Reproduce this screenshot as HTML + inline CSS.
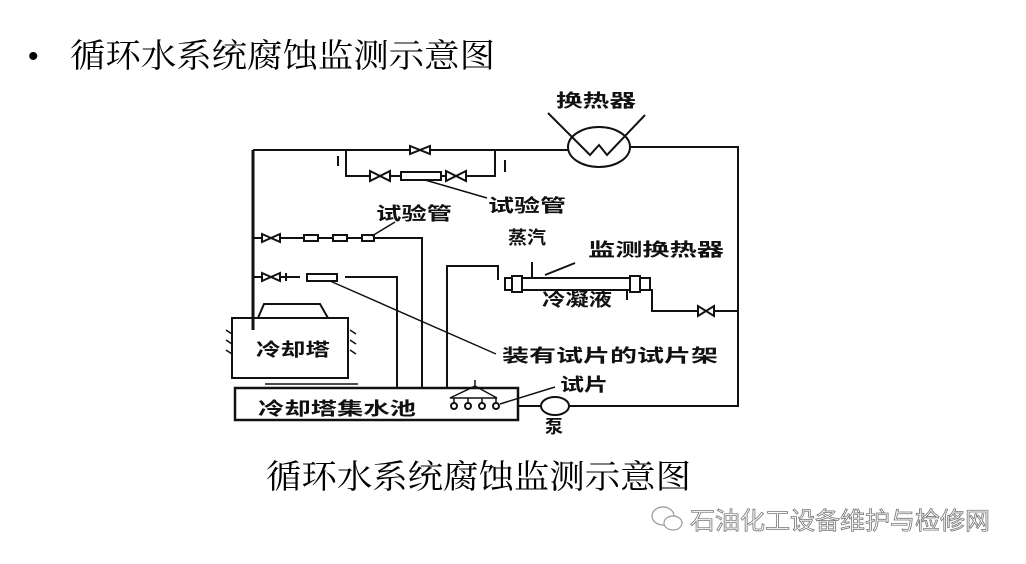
<!DOCTYPE html>
<html><head><meta charset="utf-8"><style>
body{margin:0;width:1026px;height:564px;background:#fff;overflow:hidden;font-family:"Liberation Sans","Noto Sans CJK SC",sans-serif;}
svg{position:absolute;left:0;top:0}
</style></head><body>
<svg width="1026" height="564" viewBox="0 0 1026 564" font-family="'Liberation Sans','Noto Sans CJK SC',sans-serif">
<text x="28" y="66" font-size="30" font-family="'Liberation Sans',sans-serif">•</text>
<text x="70" y="67" font-size="33" textLength="425" lengthAdjust="spacingAndGlyphs" font-family="'Noto Serif CJK SC','Noto Sans CJK SC',serif">循环水系统腐蚀监测示意图</text>
<text x="266" y="488" font-size="33" textLength="425" lengthAdjust="spacingAndGlyphs" font-family="'Noto Serif CJK SC','Noto Sans CJK SC',serif">循环水系统腐蚀监测示意图</text>
<g stroke="#111" stroke-width="2" fill="none">
<path d="M253 150 V330" stroke-width="3"/>
<path d="M253 150 H568"/>
<path d="M630 147 H738 V406 H530"/>
<ellipse cx="599" cy="147" rx="31" ry="20"/>
<path d="M548 113 L590 155 L599 145 L607 155 L645 115"/>
<path d="M346 150 V176 H495 V150"/>
<rect x="401" y="172" width="40" height="8" fill="#fff"/>
<path d="M370 171 L370 181 L390 171 L390 181 Z M446 171 L446 181 L466 171 L466 181 Z M410 146 L410 154 L430 146 L430 154 Z" fill="#fff"/>
<path d="M338 156 V166 M505 160 V172"/>
<path d="M425 180 L487 198" stroke-width="1.5"/>
<path d="M253 238 H422 V388" />
<path d="M262 234 V242 L280 234 V242 Z" fill="#fff"/>
<rect x="304" y="235" width="14" height="6" fill="#fff"/><rect x="333" y="235" width="14" height="6" fill="#fff"/><rect x="362" y="235" width="12" height="6" fill="#fff"/>
<path d="M372 236 L395 222" stroke-width="1.5"/>
<path d="M253 277 H300 M345 277 H397 V388"/>
<path d="M262 273 V281 L280 273 V281 Z M286 273 V281" fill="#fff"/>
<rect x="307" y="274" width="30" height="7" fill="#fff"/>
<path d="M330 281 L496 354" stroke-width="1.5"/>
<path d="M447 388 V266 H498 V280"/>
<path d="M532 262 V278 M627 290 V300 M545 275 L575 263"/>
<rect x="505" y="278" width="145" height="12" fill="#fff"/>
<rect x="512" y="276" width="10" height="16" fill="#fff"/>
<rect x="630" y="276" width="10" height="16" fill="#fff"/>
<path d="M645 290 H652 V311 H738"/>
<path d="M698 306 V316 L714 306 V316 Z" fill="#fff"/>
<path d="M232 318 H348 V378 H232 Z M258 318 L264 304 H320 L328 318"/>
<path d="M226 330 l6 4 M226 340 l6 4 M226 350 l6 4 M350 330 l6 4 M350 340 l6 4 M350 350 l6 4" stroke-width="1.5"/>
<rect x="235" y="388" width="283" height="32" stroke-width="2.5"/>
<path d="M265 384 H358" stroke-width="1.5"/>
<path d="M475 380 V386 L450 398 H497 L475 386 M454 398 V403 M468 398 V403 M482 398 V403 M496 398 V403" stroke-width="1.5"/>
<circle cx="454" cy="406" r="3" fill="#fff"/><circle cx="468" cy="406" r="3" fill="#fff"/><circle cx="482" cy="406" r="3" fill="#fff"/><circle cx="496" cy="406" r="3" fill="#fff"/>
<path d="M500 404 L555 387" stroke-width="1.5"/>
<path d="M518 406 H540"/>
<ellipse cx="555" cy="406" rx="14" ry="9" fill="#fff"/>
</g>
<g font-size="18" font-weight="bold" fill="#111" lengthAdjust="spacingAndGlyphs">
<text x="556" y="107" textLength="80" lengthAdjust="spacingAndGlyphs">换热器</text>
<text x="488" y="212" textLength="78" lengthAdjust="spacingAndGlyphs">试验管</text>
<text x="376" y="220" textLength="76" lengthAdjust="spacingAndGlyphs">试验管</text>
<text x="508" y="244" textLength="38" lengthAdjust="spacingAndGlyphs">蒸汽</text>
<text x="588" y="256" textLength="136" lengthAdjust="spacingAndGlyphs">监测换热器</text>
<text x="542" y="306" textLength="70" lengthAdjust="spacingAndGlyphs">冷凝液</text>
<text x="502" y="362" textLength="216" lengthAdjust="spacingAndGlyphs">装有试片的试片架</text>
<text x="560" y="391" textLength="48" lengthAdjust="spacingAndGlyphs">试片</text>
<text x="545" y="433">泵</text>
<text x="256" y="356" textLength="74" lengthAdjust="spacingAndGlyphs">冷却塔</text>
<text x="258" y="415" textLength="158" lengthAdjust="spacingAndGlyphs">冷却塔集水池</text>
</g>
<g fill="none" stroke="#999" stroke-width="1.2">
<ellipse cx="663" cy="516" rx="11" ry="9"/><ellipse cx="673" cy="523" rx="9" ry="7" fill="#fff"/>
</g>
<text x="690" y="529" font-size="24" textLength="300" lengthAdjust="spacingAndGlyphs" fill="#fff" stroke="#777" stroke-width="0.8">石油化工设备维护与检修网</text>
</svg>
</body></html>
